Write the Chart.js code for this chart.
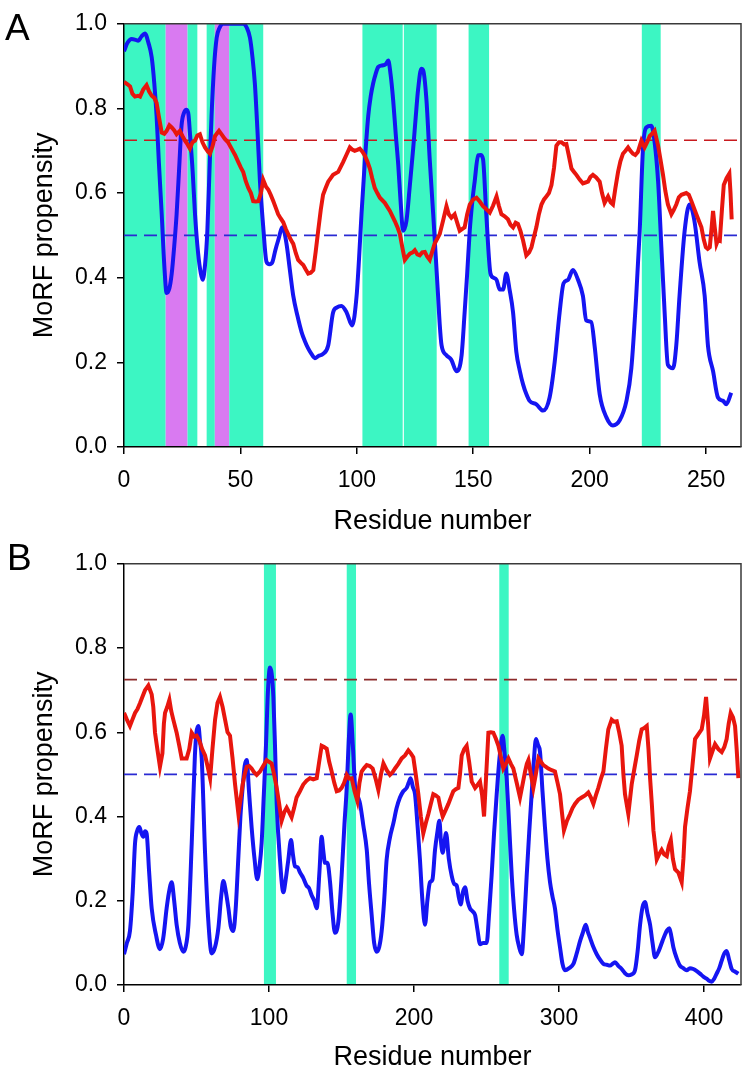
<!DOCTYPE html>
<html>
<head>
<meta charset="utf-8">
<script src="https://cdn.jsdelivr.net/npm/chart.js@4"></script>
<style>
body { margin: 0; background: #fff; width: 756px; height: 1074px; position: relative; overflow: hidden; font-family: "Liberation Sans", Arial, sans-serif; }
canvas { position: absolute; left: 0; }
.tag { position: absolute; font-size: 37px; color: #000; line-height: 42px; }
</style>
</head>
<body>
<canvas id="chartA" width="756" height="540" style="top:0"></canvas>
<canvas id="chartB" width="756" height="534" style="top:540px"></canvas>
<div class="tag" style="left:5px;top:7px">A</div>
<div class="tag" style="left:7px;top:537px">B</div>
<script>
// ---- Panel A data ----
const aBlueX = [0,1.5,3.3,5,6.1,7.5,9,10.5,11.9,13,14,15,16.2,17.3,18.3,19.5,20.5,21.5,22.6,23.7,24.7,25.8,26.9,27.7,28.3,29.5,30.5,31.8,33,33.8,34.8,35.8,36.7,37.6,38.7,39.8,41,42.6,45,48,51.2,52.8,54.1,55.2,56.2,57.3,58.4,59.8,61.2,62.5,63.8,65,66.2,68.1,69.8,71.2,72.7,74.5,76.3,77.7,79.1,80.5,82,83.5,85.5,87.7,89.8,91.5,93.4,95.6,98,99.9,101,102,103.5,104.9,106,107,108,109.2,111.3,112.5,113.5,114.5,115.6,116.7,117.8,118.8,119.9,121.3,122.8,124.2,125.3,126.3,127.7,128.5,129.9,131.3,132.8,133.9,134.9,135.6,136.4,138.5,140.6,142.8,145,146.3,147.4,148.5,149.6,150.6,152.1,153.2,154.2,155.6,157.4,158.7,160,161.4,162.8,164.2,165.6,167.1,168.5,170,171.4,172.8,174.2,177.1,180,182.8,185,187.1,188.8,190.7,192.8,195,197.1,198.5,200.7,202.1,204.3,207.2,210,212.9,215.8,217.9,220,221.5,222.9,224.3,226.5,227.9,229.4,230.8,232.2,233.6,235.8,237.2,238.6,240.8,242.9,245,247.2,249.4,250.8,253,255.1,257.3,258.7,260.8];
const aBlueY = [0.935,0.955,0.964,0.962,0.96,0.97,0.977,0.955,0.921,0.86,0.782,0.67,0.55,0.43,0.364,0.375,0.41,0.47,0.55,0.66,0.759,0.79,0.797,0.785,0.743,0.65,0.55,0.46,0.41,0.395,0.43,0.511,0.65,0.782,0.9,0.967,0.99,1,1,1,1,0.99,0.967,0.92,0.859,0.75,0.627,0.52,0.438,0.432,0.438,0.465,0.488,0.519,0.48,0.42,0.357,0.31,0.271,0.25,0.233,0.22,0.21,0.215,0.22,0.24,0.318,0.33,0.333,0.318,0.287,0.357,0.45,0.55,0.68,0.782,0.83,0.859,0.88,0.898,0.902,0.905,0.913,0.88,0.82,0.74,0.666,0.58,0.511,0.534,0.62,0.705,0.78,0.844,0.894,0.89,0.82,0.68,0.55,0.45,0.357,0.29,0.24,0.217,0.206,0.179,0.217,0.318,0.41,0.511,0.58,0.627,0.689,0.69,0.68,0.55,0.41,0.4,0.395,0.372,0.372,0.41,0.372,0.318,0.225,0.18,0.148,0.125,0.109,0.101,0.086,0.117,0.202,0.318,0.387,0.395,0.418,0.395,0.357,0.299,0.295,0.24,0.125,0.07,0.051,0.063,0.109,0.186,0.357,0.511,0.705,0.755,0.759,0.72,0.627,0.472,0.318,0.194,0.186,0.24,0.357,0.511,0.573,0.534,0.437,0.357,0.24,0.179,0.117,0.109,0.101,0.128];
const aRedX = [0,1.5,2.6,3.6,4.7,6,6.9,8.3,9.7,10.8,11.9,13,14,15,16.2,17.3,18.3,19.5,20.5,21.6,22.6,24,25.1,26.2,27.3,28.3,29.4,30.5,31.5,32.6,33.7,34.8,36,36.9,38,39.1,40.8,42,43.3,44.7,46.2,47.7,49.1,50.2,51.2,52.3,53.4,54.5,55.5,56.6,57.7,58.8,59.8,61,62,63,64.1,65.2,66.2,67.3,68.4,69.5,70.5,71.6,72.7,73.8,74.8,76,77,78,79.1,80.2,81.3,82.3,83.4,84.5,85.5,86.6,87.7,89.8,92,94.1,95.5,97,98,99.1,100.2,101.3,102.4,103.4,104.5,105.6,106.6,107.7,108.8,109.9,112,114.2,116.3,117.4,118.5,119.6,120.6,121.7,122.8,124,124.9,126,127,128.1,129.2,130.2,131.3,133.4,135.6,137,138.5,139.5,140.6,142,143.1,144.2,146.3,147.4,148.5,150,151.4,152.8,154.2,155.6,157.1,158.5,160,161,162.1,163.5,164.9,166,167.1,168.2,169.2,170.3,171.4,172.8,174,175,176,177.1,178.2,179.3,180.4,181.4,182.5,183.6,184.7,185.7,186.8,187.9,189,190,191,192.2,193.3,194.3,195.7,197.1,198.2,199.3,200.3,201.4,202.8,204.3,205.3,206.4,207.9,209,210,211,212.2,213.2,214.3,215.4,216.5,217.5,218.6,219.6,220.7,222.2,223.6,224.7,225.8,226.8,227.9,229.4,230.4,231.5,232.5,233.6,235.1,236.1,237.2,238.3,239.4,241.5,242.6,243.7,245.8,248,249,249.9,250.7,251.6,252.4,253,253.7,254.5,255.2,255.9,256.8,257.6,258.8,260,260.5,261];
const aRedY = [0.863,0.857,0.852,0.835,0.828,0.83,0.828,0.845,0.855,0.84,0.83,0.825,0.813,0.78,0.743,0.74,0.747,0.76,0.755,0.748,0.739,0.747,0.735,0.724,0.715,0.705,0.72,0.724,0.736,0.739,0.72,0.708,0.698,0.693,0.71,0.735,0.747,0.738,0.728,0.72,0.705,0.69,0.673,0.66,0.65,0.628,0.612,0.6,0.581,0.58,0.581,0.6,0.631,0.615,0.608,0.596,0.581,0.565,0.55,0.54,0.531,0.515,0.503,0.49,0.48,0.458,0.442,0.435,0.43,0.42,0.41,0.412,0.418,0.46,0.511,0.56,0.596,0.612,0.627,0.643,0.65,0.673,0.69,0.708,0.703,0.7,0.702,0.705,0.698,0.689,0.675,0.658,0.635,0.612,0.6,0.589,0.577,0.558,0.534,0.52,0.503,0.47,0.442,0.45,0.457,0.46,0.465,0.455,0.453,0.46,0.461,0.45,0.442,0.48,0.503,0.534,0.569,0.55,0.542,0.55,0.53,0.511,0.519,0.55,0.573,0.585,0.589,0.58,0.569,0.562,0.554,0.57,0.592,0.57,0.55,0.545,0.538,0.525,0.519,0.53,0.527,0.51,0.488,0.453,0.46,0.472,0.495,0.519,0.55,0.573,0.585,0.592,0.6,0.619,0.66,0.712,0.72,0.72,0.715,0.716,0.69,0.658,0.65,0.643,0.632,0.623,0.625,0.627,0.638,0.643,0.637,0.627,0.6,0.577,0.592,0.578,0.573,0.61,0.65,0.675,0.693,0.7,0.708,0.7,0.693,0.69,0.697,0.724,0.708,0.72,0.735,0.74,0.747,0.712,0.68,0.643,0.605,0.573,0.55,0.56,0.573,0.59,0.596,0.6,0.596,0.581,0.55,0.519,0.49,0.472,0.468,0.472,0.52,0.558,0.52,0.48,0.49,0.488,0.56,0.619,0.635,0.646,0.6,0.538];
// MoRF regions (residue start/end) and kind: g = green, p = purple
const aBandStart = [0,17.9,27.3,35.5,39,45.2,102.4,120.2,148,222.4];
const aBandEnd   = [17.9,27.3,31.5,39,45.2,59.8,119.7,134.3,156.8,230.5];
const aBandKind  = ['g','p','g','g','p','g','g','g','g','g'];

// ---- Panel B data ----
const bBlueX = [0,2,4.1,6,7.6,9,10.6,12,13.3,14.5,15.6,17.3,19.1,22,24.8,27,29.4,31,32.9,34.6,36.3,38.5,40.9,42.5,44.4,46.7,48.9,50,51.3,52.4,53.6,55.9,58,60.5,62.8,65.1,67,68.5,70.3,72,73.6,75.4,77,78.9,80.3,81.8,83.2,84.6,86.2,88,90,91.9,93.4,94.9,96.4,97.9,99.3,100.7,101.8,103,104.2,105.3,107.5,109.9,111.5,113.3,115.2,116.5,117.9,119.6,121.4,123.5,125.9,127.6,129.4,131.2,132.9,134.8,136.3,137.4,138.6,140.3,142.1,143.8,145.5,147.8,150.1,152,153.6,155,156.3,157.8,159.3,161,162.8,165,167.4,169,170.8,172.5,174.3,176,177.7,179.4,181.1,183.4,185.7,188,190.3,192.6,194.9,196.3,197.7,199.2,200.7,202.4,204.1,205.8,207.6,209.2,211,212.7,214.5,216,217.5,218.6,219.8,221,222.1,224,226,227.7,229.4,230.8,232.2,233.7,235.2,236.9,238.6,240.3,242.1,243.8,245.5,247.8,250.1,251.8,253.5,255.2,257,259,261.1,262.5,263.9,265.6,267.4,269,270.8,272.5,274.3,276,277.7,279.4,281.1,282.6,284.1,285.5,286.9,288.6,290.3,292,293.8,295.5,297.2,299,300.7,302.4,304.1,307,309.9,312.2,314.5,316.5,318.4,320,321.4,323.7,326,328.3,330.6,332.9,335.2,336.9,338.6,341,343.2,345.5,347.8,350,352.4,354.2,355.9,357.6,359.3,361,362.8,364.5,366.2,368,369.7,371.4,373.1,374.6,376.1,377.5,378.9,381,383.4,385.7,388,390.3,392.6,395,397.2,399.5,401.8,403.5,405.3,407,408.7,410.5,412.2,414,415.6,417.3,419.1,421.4,423.7];
const bBlueY = [0.073,0.1,0.128,0.22,0.336,0.365,0.375,0.36,0.352,0.365,0.36,0.27,0.182,0.12,0.085,0.11,0.182,0.22,0.244,0.2,0.143,0.1,0.079,0.09,0.143,0.336,0.545,0.6,0.615,0.58,0.538,0.313,0.16,0.075,0.09,0.136,0.21,0.247,0.22,0.182,0.14,0.128,0.18,0.306,0.4,0.468,0.52,0.534,0.46,0.375,0.3,0.251,0.28,0.336,0.45,0.568,0.7,0.754,0.74,0.684,0.56,0.43,0.3,0.22,0.25,0.297,0.344,0.31,0.282,0.28,0.267,0.255,0.236,0.23,0.213,0.2,0.182,0.27,0.352,0.32,0.29,0.29,0.244,0.17,0.124,0.15,0.26,0.38,0.468,0.58,0.642,0.57,0.474,0.45,0.43,0.38,0.321,0.24,0.166,0.1,0.079,0.09,0.128,0.2,0.297,0.35,0.383,0.42,0.445,0.46,0.468,0.48,0.491,0.47,0.453,0.38,0.297,0.2,0.143,0.2,0.244,0.25,0.321,0.36,0.39,0.34,0.314,0.34,0.361,0.3,0.259,0.24,0.236,0.21,0.191,0.22,0.232,0.2,0.182,0.175,0.166,0.13,0.097,0.1,0.1,0.17,0.259,0.36,0.452,0.54,0.592,0.55,0.491,0.38,0.259,0.18,0.119,0.09,0.073,0.15,0.259,0.36,0.452,0.53,0.584,0.57,0.553,0.46,0.375,0.3,0.244,0.21,0.182,0.13,0.089,0.05,0.035,0.04,0.05,0.075,0.104,0.125,0.143,0.125,0.112,0.09,0.073,0.06,0.05,0.048,0.046,0.05,0.054,0.045,0.038,0.028,0.023,0.025,0.035,0.08,0.143,0.185,0.197,0.17,0.143,0.1,0.066,0.075,0.089,0.105,0.12,0.13,0.135,0.115,0.089,0.065,0.046,0.04,0.035,0.04,0.038,0.033,0.027,0.02,0.015,0.01,0.008,0.015,0.027,0.04,0.058,0.075,0.081,0.06,0.038,0.032,0.027];
const bRedX = [0,2,4.1,5.8,7.6,9.3,11,12.8,14.5,16.8,19.1,20.2,21.4,23,24.8,26.5,27.5,28.3,29.8,31.3,32.6,34,36.3,38,39.8,41.5,43.2,45,46.7,48.4,50.1,52,53.9,55.9,57.6,59.4,61,62.8,64.5,66.2,68,69.7,71.4,73.1,74.8,76.6,78.9,80.3,81.8,83.2,84.6,86.3,88,89.7,91.5,93.8,96,98.4,100,101.8,103.5,105.3,107,108.7,110.5,112.2,113.9,115.6,117.3,119,121.3,123.6,125.9,128.2,130.5,132.9,134.6,136.3,138,139.8,141.5,143.2,145,146.7,148.4,150.1,151.8,153.6,155.3,157,159,160.9,162.4,163.9,165.6,167.4,169.5,171.5,173.5,175.4,177.2,178.9,181.2,183.4,185.2,186.9,189.2,191.5,193.8,196.1,197.8,199.5,201.2,203,204.7,206.4,208.2,209.9,211.6,213.3,215,216.8,218.3,219.8,221.8,223.7,225.4,227.1,228.8,230.6,231.7,232.9,234.6,236.3,238,239.8,241,242.1,243.8,245.5,247,248.3,249.8,251.3,253,254.7,256.4,258.2,260,261.6,263.3,265.1,266.8,268.5,270.8,273.1,274.8,276.6,277.8,278.9,280.6,282.3,284,285.8,287.5,289.2,291,292.6,295,297.2,299,300.7,302,303.4,305.5,307.6,309.3,311,313.3,315.6,318,320.2,322,323.7,325.4,327.1,328.9,330.6,332.3,334,336.3,338,339.8,341.5,343.2,344.4,345.5,347.8,350.1,351.8,353.6,355.3,357,358.8,360.5,361.7,362.8,364,365.1,367.4,369,370.8,372.5,374.3,375.7,377.1,378.5,380,382.3,384.6,385.8,386.9,388.6,390.3,392,393.8,396,398.4,400,401.4,402.8,404.1,405.8,407.6,409.9,412.2,414,415.6,417,418.4,420,421.4,422.5,423.7];
const bRedY = [0.646,0.63,0.615,0.63,0.646,0.655,0.669,0.685,0.7,0.711,0.69,0.66,0.599,0.56,0.518,0.55,0.62,0.646,0.66,0.677,0.65,0.63,0.599,0.57,0.538,0.538,0.538,0.56,0.599,0.59,0.592,0.58,0.56,0.545,0.52,0.491,0.56,0.63,0.67,0.684,0.66,0.63,0.6,0.592,0.54,0.476,0.406,0.44,0.476,0.5,0.518,0.52,0.514,0.505,0.499,0.507,0.52,0.534,0.53,0.526,0.5,0.468,0.43,0.39,0.41,0.421,0.41,0.398,0.42,0.445,0.46,0.476,0.485,0.491,0.488,0.491,0.53,0.568,0.565,0.561,0.53,0.507,0.48,0.46,0.462,0.468,0.48,0.499,0.49,0.491,0.46,0.437,0.48,0.507,0.515,0.522,0.52,0.514,0.49,0.463,0.5,0.526,0.51,0.499,0.505,0.514,0.525,0.538,0.545,0.557,0.55,0.541,0.5,0.453,0.4,0.36,0.385,0.406,0.43,0.453,0.45,0.445,0.42,0.4,0.415,0.43,0.445,0.46,0.465,0.468,0.5,0.545,0.56,0.568,0.53,0.483,0.475,0.468,0.475,0.483,0.45,0.4,0.5,0.599,0.6,0.599,0.585,0.568,0.54,0.514,0.525,0.538,0.525,0.514,0.48,0.445,0.475,0.507,0.525,0.534,0.5,0.468,0.5,0.538,0.53,0.522,0.518,0.514,0.51,0.507,0.48,0.453,0.41,0.367,0.39,0.406,0.42,0.43,0.44,0.445,0.45,0.457,0.445,0.43,0.45,0.468,0.49,0.507,0.56,0.607,0.63,0.625,0.626,0.6,0.568,0.5,0.453,0.406,0.476,0.51,0.545,0.58,0.607,0.61,0.615,0.56,0.491,0.43,0.367,0.298,0.31,0.321,0.31,0.306,0.33,0.344,0.3,0.275,0.267,0.244,0.3,0.375,0.42,0.46,0.52,0.584,0.595,0.607,0.64,0.684,0.62,0.538,0.555,0.572,0.56,0.553,0.565,0.584,0.62,0.646,0.635,0.615,0.56,0.491];
const bBandStart = [96.5,153.6,258.8];
const bBandEnd   = [104.8,160,265.3];
const bBandKind  = ['g','g','g'];

// Cut-off lines
const redCutoff = 0.725;
const blueCutoff = 0.5;

Chart.defaults.font.family = "'Liberation Sans', Arial, sans-serif";
Chart.defaults.color = '#000';

const bandColors = { g: '#3cf6c3', p: '#d97af1' };

function zip(xs, ys) {
    return xs.map((x, i) => ({ x: x, y: ys[i] }));
}

// shaded MoRF regions, drawn under the axes
const bandsPlugin = {
    id: 'bands',
    beforeDraw(chart, args, opts) {
        const { ctx, chartArea: a, scales: { x } } = chart;
        ctx.save();
        opts.start.forEach((s, i) => {
            const x0 = x.getPixelForValue(s);
            const x1 = x.getPixelForValue(opts.end[i]);
            ctx.fillStyle = bandColors[opts.kind[i]];
            ctx.fillRect(x0, a.top, x1 - x0, a.bottom - a.top);
        });
        ctx.restore();
    }
};

// top and right frame lines
const framePlugin = {
    id: 'frame',
    afterDatasetsDraw(chart) {
        const { ctx, chartArea: a } = chart;
        ctx.save();
        ctx.strokeStyle = '#3a3a3a';
        ctx.lineWidth = 1.5;
        ctx.beginPath();
        ctx.moveTo(a.left, a.top);
        ctx.lineTo(a.right, a.top);
        ctx.lineTo(a.right, a.bottom);
        ctx.stroke();
        ctx.restore();
    }
};

function makePanel(id, o) {
    return new Chart(document.getElementById(id), {
        type: 'line',
        data: {
            datasets: [
                { data: zip(o.redX, o.redY), borderColor: '#e8160e', borderWidth: 4, order: 0 },
                { data: zip(o.blueX, o.blueY), borderColor: '#1515f2', borderWidth: 4, order: 1, cubicInterpolationMode: 'monotone' },
                { data: [{ x: 0, y: redCutoff }, { x: o.xMax, y: redCutoff }], borderColor: o.cutColor, borderWidth: 1.6, borderDash: [13, 7], order: 2 },
                { data: [{ x: 0, y: blueCutoff }, { x: o.xMax, y: blueCutoff }], borderColor: '#2a2ad2', borderWidth: 1.6, borderDash: [13, 7], order: 3 }
            ]
        },
        options: {
            responsive: false,
            animation: false,
            elements: { point: { radius: 0 }, line: { tension: 0 } },
            layout: { padding: { left: 24, right: 15, top: o.top, bottom: 0 } },
            plugins: {
                legend: { display: false },
                tooltip: { enabled: false },
                bands: { start: o.bandStart, end: o.bandEnd, kind: o.bandKind }
            },
            scales: {
                x: {
                    type: 'linear', min: 0, max: o.xMax,
                    ticks: { stepSize: o.step, includeBounds: false, font: { size: 23 }, padding: 13, maxRotation: 0 },
                    grid: { drawOnChartArea: false, tickLength: 7, color: '#000', lineWidth: 1.5 },
                    border: { color: '#000', width: 1.5 },
                    title: { display: true, text: 'Residue number', font: { size: 27 }, padding: { top: 0, bottom: o.titlePad } },
                    afterFit: s => { s.height = o.xAxisH; }
                },
                y: {
                    min: 0, max: 1,
                    ticks: { stepSize: 0.2, font: { size: 23 }, padding: 10, callback: v => v.toFixed(1) },
                    grid: { drawOnChartArea: false, tickLength: 7, color: '#000', lineWidth: 1.5 },
                    border: { color: '#000', width: 1.5 },
                    title: { display: true, text: 'MoRF propensity', font: { size: 27 }, padding: { top: 4, bottom: 0 } },
                    afterFit: s => { s.width = 100; }
                }
            }
        },
        plugins: [bandsPlugin, framePlugin]
    });
}

makePanel('chartA', {
    redX: aRedX, redY: aRedY, blueX: aBlueX, blueY: aBlueY,
    bandStart: aBandStart, bandEnd: aBandEnd, bandKind: aBandKind,
    xMax: 265, step: 50, cutColor: '#c81a1e',
    top: 16, xAxisH: 93, titlePad: 2
});

makePanel('chartB', {
    redX: bRedX, redY: bRedY, blueX: bBlueX, blueY: bBlueY,
    bandStart: bBandStart, bandEnd: bBandEnd, bandKind: bBandKind,
    xMax: 425.5, step: 100, cutColor: '#8c2a2a',
    top: 14, xAxisH: 89, titlePad: 0
});
</script>
</body>
</html>
